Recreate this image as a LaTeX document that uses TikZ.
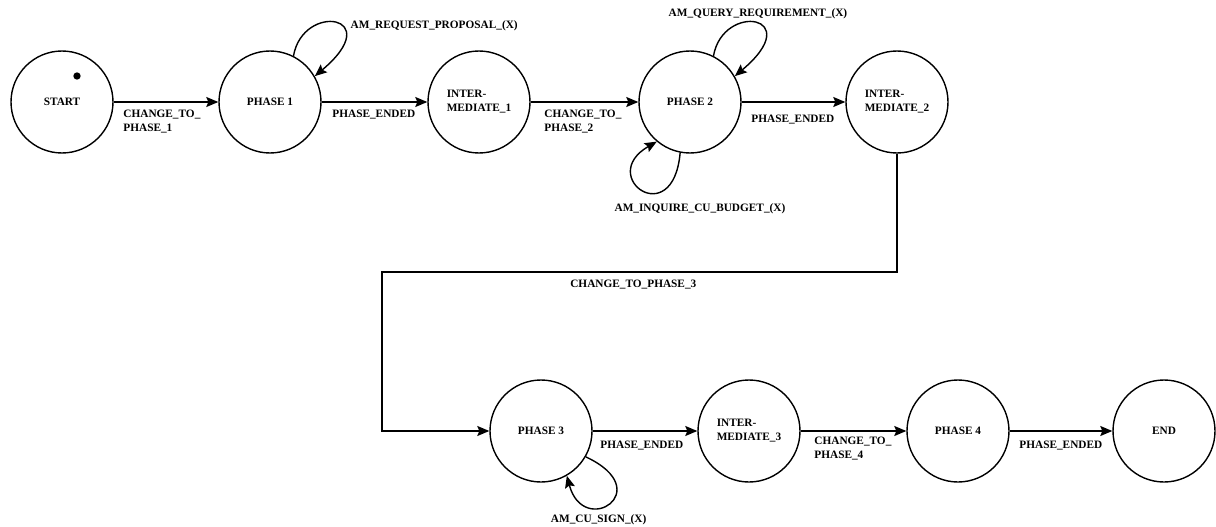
\documentclass[tikz,border=0pt]{standalone}
\usepackage{fontspec}
\setmainfont{Liberation Serif}
\usetikzlibrary{arrows.meta}

\begin{document}
\begin{tikzpicture}[
    x=1pt, y=1pt,
    line width=1.4pt,
    st/.style={circle, draw, minimum size=102pt, inner sep=0pt, align=left},
    dot/.style={circle, fill=black, inner sep=2.6pt},
    lab/.style={inner sep=0pt, align=left},
    >={Stealth[length=12pt, width=10pt, inset=2pt]},
    font=\fontsize{11.3}{14}\selectfont\bfseries
]
    \useasboundingbox (0, 0) rectangle (1216, -527);

    % 节点定义 (上排)
    \node[st] (S)  at (62, -102)  {START};
    \node[dot] (D) at (77, -76)   {};      % 起始标记
    \node[st] (P1) at (270, -102) {PHASE 1};
    \node[st] (I1) at (479, -102) {INTER-\\MEDIATE\_1};
    \node[st] (P2) at (690, -102) {PHASE 2};
    \node[st] (I2) at (897, -102) {INTER-\\MEDIATE\_2};

    % 节点定义 (下排)
    \node[st] (P3) at (541, -431)  {PHASE 3};
    \node[st] (I3) at (749, -431)  {INTER-\\MEDIATE\_3};
    \node[st] (P4) at (958, -431)  {PHASE 4};
    \node[st] (E)  at (1164, -431) {END};

    \coordinate (K) at (382, -272); % 折线拐点

    % 1. 上排直线
    \draw[->] (S) -- node[lab, pos=0, anchor=north west, xshift=9pt, yshift=-7pt] {CHANGE\_TO\_\\PHASE\_1} (P1);
    \draw[->] (P1) -- node[lab, pos=0, anchor=north west, xshift=10pt, yshift=-7pt] {PHASE\_ENDED} (I1);
    \draw[->] (I1) -- node[lab, pos=0, anchor=north west, xshift=13pt, yshift=-7pt] {CHANGE\_TO\_\\PHASE\_2} (P2);
    \draw[->] (P2) -- node[lab, pos=0, anchor=north west, xshift=9pt, yshift=-12pt] {PHASE\_ENDED} (I2);

    % 2. 自环
    \draw[->] (P1.63) .. controls +(80:55) and +(40:95) .. node[lab, pos=0.5, anchor=west, xshift=15pt, yshift=-3pt] {AM\_REQUEST\_PROPOSAL\_(X)} (P1.30);
    \draw[->] (P2.63) .. controls +(80:55) and +(40:95) .. node[lab, pos=0.5, above=3pt, xshift=3pt] {AM\_QUERY\_REQUIREMENT\_(X)} (P2.30);
    \draw[->] (P2.259) .. controls +(265:80) and +(210:70) .. node[lab, pos=0.35, below=10pt, xshift=44pt] {AM\_INQUIRE\_CU\_BUDGET\_(X)} (P2.230);
    \draw[->] (P3.330) .. controls +(-25:80) and +(-75:65) .. node[lab, pos=0.6, below=8pt, xshift=-3pt] {AM\_CU\_SIGN\_(X)} (P3.300);

    % 3. 折线 (上排 -> 下排)
    \draw[->] (I2.south) |- node[lab, pos=0.756, below=7pt] {CHANGE\_TO\_PHASE\_3} (K) |- (P3.west);

    % 4. 下排直线
    \draw[->] (P3) -- node[lab, pos=0, anchor=north west, xshift=7pt, yshift=-9pt] {PHASE\_ENDED} (I3);
    \draw[->] (I3) -- node[lab, pos=0, anchor=north west, xshift=13pt, yshift=-5pt] {CHANGE\_TO\_\\PHASE\_4} (P4);
    \draw[->] (P4) -- node[lab, pos=0, anchor=north west, xshift=9pt, yshift=-9pt] {PHASE\_ENDED} (E);

\end{tikzpicture}
\end{document}
